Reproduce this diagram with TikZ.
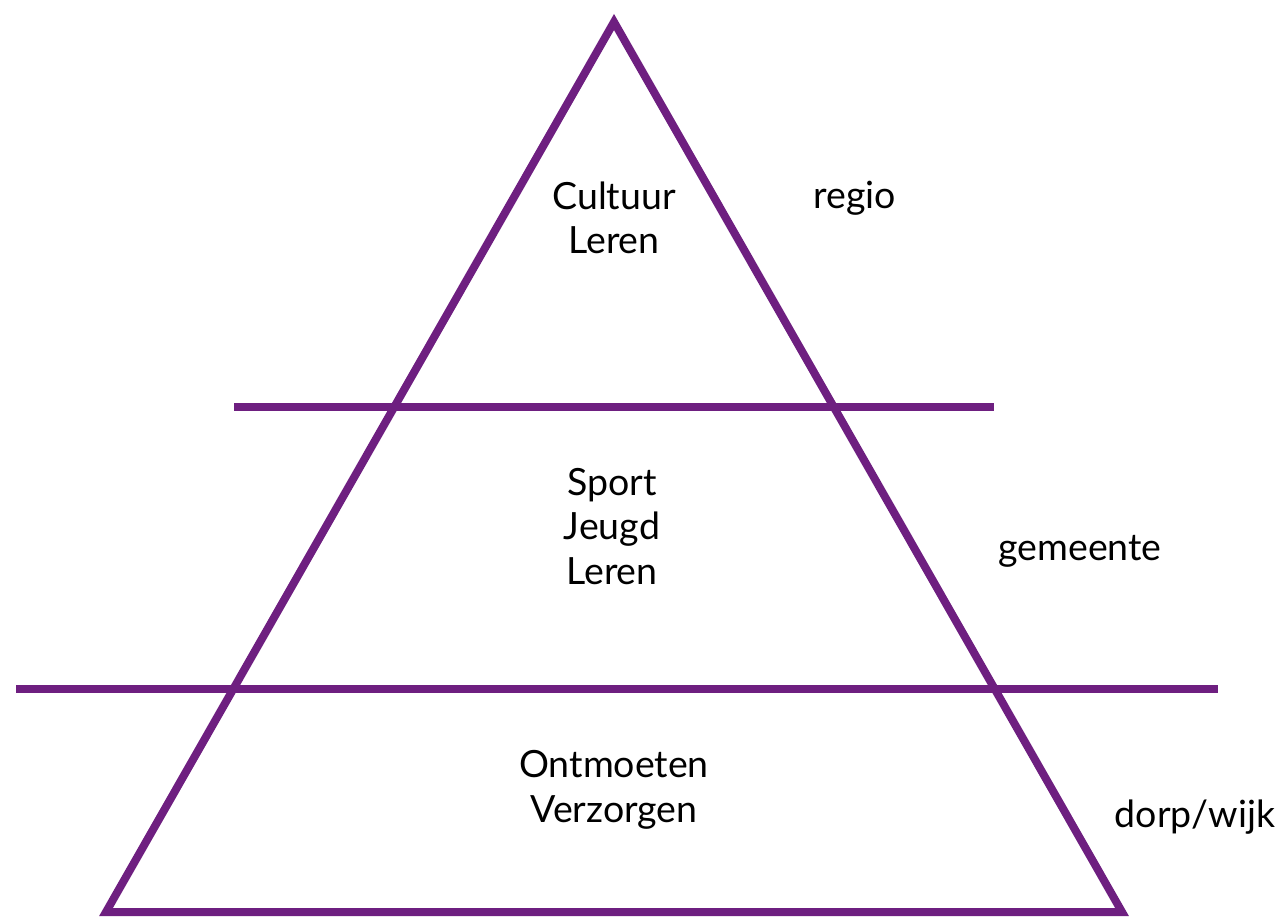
\documentclass[tikz,border=0pt]{standalone}
\usepackage{fontspec}
\setmainfont{Lato}
\definecolor{pyr}{HTML}{6E1F80}
\begin{document}
\begin{tikzpicture}[x=1pt,y=-1pt,
  edge/.style={draw=pyr,line width=8pt},
  lbl/.style={font=\fontsize{37.5}{44.5}\selectfont,align=center,anchor=base,inner sep=0pt,text=black}]
\useasboundingbox (0,0) rectangle (1284,917);
\coordinate (apex) at (614,22);
\coordinate (bl) at (106,912);
\coordinate (br) at (1122,912);
\draw[edge,line join=miter] (apex) -- (bl) -- (br) -- cycle;
\coordinate (h1a) at (234,407);
\coordinate (h1b) at (994,407);
\coordinate (h2a) at (16,689);
\coordinate (h2b) at (1218,689);
\draw[edge] (h1a) -- (h1b);
\draw[edge] (h2a) -- (h2b);
\node[lbl] (t1) at (614,254) {Cultuur\\Leren};
\node[lbl] (t2) at (612,584) {Sport\\Jeugd\\Leren};
\node[lbl] (t3) at (614,822) {Ontmoeten\\Verzorgen};
\node[lbl] (r1) at (855,209) {regio};
\node[lbl] (r2) at (1080,560) {gemeente};
\node[lbl] (r3) at (1195,827) {dorp/wijk};
\end{tikzpicture}
\end{document}
